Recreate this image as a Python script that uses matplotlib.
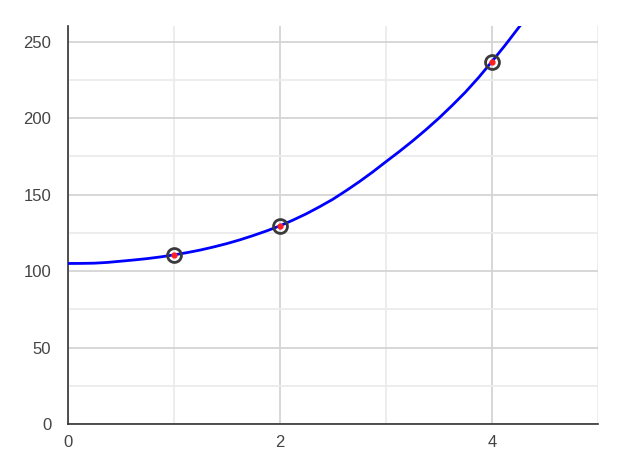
import numpy as np
import matplotlib
matplotlib.use('Agg')
import matplotlib.pyplot as plt
from matplotlib.ticker import MultipleLocator

# observed points
pts_x = [1, 2, 4]
pts_y = [110.6, 129.6, 237.0]

# fitted curve
curve_x = [0, 0.125, 0.25, 0.375, 0.5, 0.625, 0.75, 0.875, 1.0, 1.125,
           1.25, 1.375, 1.5, 1.625, 1.75, 1.875, 2.0, 2.125, 2.25, 2.375,
           2.5, 2.625, 2.75, 2.875, 3.0, 3.125, 3.25, 3.375, 3.5, 3.625,
           3.75, 3.875, 4.0, 4.125, 4.25, 4.3]
curve_y = [105.0, 105.05, 105.2, 105.7, 106.5, 107.3, 108.2, 109.3, 110.6, 112.1,
           113.8, 115.8, 118.0, 120.5, 123.3, 126.3, 129.6, 133.4, 137.5, 142.1,
           147.0, 152.6, 158.5, 164.8, 171.5, 178.1, 185.0, 192.3, 200.0, 208.3,
           217.0, 226.6, 237.0, 247.7, 259.0, 263.5]

x_ticks = [0, 2, 4]
y_ticks = [0, 50, 100, 150, 200, 250]

plt.rcParams['font.family'] = ['Liberation Sans', 'DejaVu Sans']

fig = plt.figure(figsize=(6.4, 4.69), dpi=100)
ax = fig.add_axes([0.106, 0.096, 0.828, 0.849])

ax.set_xlim(0, 5)
ax.set_ylim(0, 260.5)

ax.set_xticks(x_ticks)
ax.set_yticks(y_ticks)
ax.xaxis.set_minor_locator(MultipleLocator(1))
ax.yaxis.set_minor_locator(MultipleLocator(25))

ax.grid(True, which='major', color='#d4d4d4', linewidth=1.3)
ax.grid(True, which='minor', color='#ececec', linewidth=1.3)
ax.set_axisbelow(True)

ax.plot(curve_x, curve_y, color='#0000ff', linewidth=2, zorder=3)
ax.plot(pts_x, pts_y, linestyle='none', marker='o', markersize=10,
        markerfacecolor='none', markeredgecolor='#3a3a3a', markeredgewidth=2, zorder=4)
ax.plot(pts_x, pts_y, linestyle='none', marker='o', markersize=3.5,
        color='#ff2020', zorder=5)

for s in ['top', 'right']:
    ax.spines[s].set_visible(False)
for s in ['left', 'bottom']:
    ax.spines[s].set_color('#333333')
    ax.spines[s].set_linewidth(1.2)

ax.tick_params(which='both', length=0, labelsize=12, colors='#444444')
ax.tick_params(axis='y', pad=12)
ax.tick_params(axis='x', pad=8)

fig.savefig('out.png', dpi=100, facecolor='white')
